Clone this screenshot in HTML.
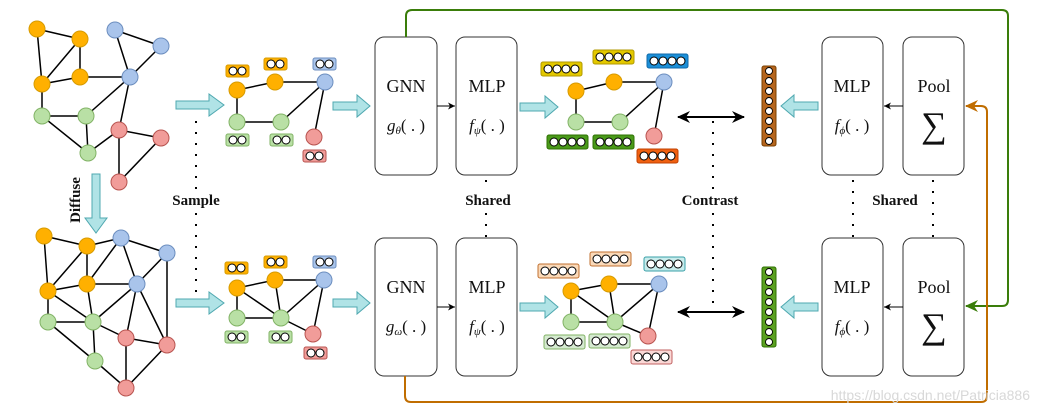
<!DOCTYPE html>
<html><head><meta charset="utf-8"><style>body{margin:0;background:#fff}svg{display:block}text{font-family:"Liberation Serif",serif}</style></head><body>
<svg width="1039" height="414" viewBox="0 0 1039 414" xmlns="http://www.w3.org/2000/svg">
<defs>
<marker id="ah" markerWidth="8" markerHeight="8" refX="7" refY="4" orient="auto" markerUnits="userSpaceOnUse"><path d="M0,0.5 L7,4 L0,7.5 L2,4z" fill="#000"/></marker>
<marker id="ab" markerWidth="14" markerHeight="12" refX="12" refY="6" orient="auto-start-reverse" markerUnits="userSpaceOnUse"><path d="M0,0 L13,6 L0,12 L4,6z" fill="#000"/></marker>
<marker id="ag" markerWidth="14" markerHeight="12" refX="12" refY="6" orient="auto" markerUnits="userSpaceOnUse"><path d="M0,0 L13,6 L0,12 L4,6z" fill="#3a7d0a"/></marker>
<marker id="ao" markerWidth="14" markerHeight="12" refX="12" refY="6" orient="auto" markerUnits="userSpaceOnUse"><path d="M0,0 L13,6 L0,12 L4,6z" fill="#c06d00"/></marker>
</defs>
<g stroke="#000" stroke-width="1.5" fill="none">
<path d="M37,29L80,39M37,29L42,84M80,39L42,84M80,39L80,77M42,84L80,77M80,77L130,77M115,30L161,46M115,30L130,77M161,46L130,77M130,77L86,116M130,77L119,130M42,84L42,116M42,116L86,116M42,116L88,153M86,116L88,153M88,153L119,130M119,130L161,138M119,130L119,182M161,138L119,182"/>
<path d="M44,236L87,246M44,236L48,291M87,246L48,291M87,246L87,284M87,246L121,238M48,291L87,284M48,291L48,322M48,291L93,322M87,284L93,322M87,284L137,284M87,284L121,238M121,238L137,284M121,238L167,253M167,253L137,284M167,253L167,345M137,284L93,322M137,284L126,338M137,284L167,345M48,322L93,322M48,322L95,361M93,322L95,361M93,322L126,338M126,338L167,345M126,338L126,388M95,361L126,388M167,345L126,388"/>
<path d="M237,90L275,82L325,82M237,90L237,122L281,122L325,82L314,137"/>
<path d="M237,288L275,280L324,280M237,288L237,318L281,318L324,280L313,334M237,288L281,318M275,280L281,318M281,318L313,334"/>
<path d="M576,91L614,82L664,82M576,91L576,122L620,122L664,82L654,136"/>
<path d="M571,291L609,284L659,284M571,291L571,322L615,322L659,284L648,336M571,291L615,322M609,284L615,322M615,322L648,336"/>
</g>
<g stroke-width="1">
<g fill="#ffb000" stroke="#d79b00">
<circle cx="37" cy="29" r="8"/><circle cx="80" cy="39" r="8"/><circle cx="42" cy="84" r="8"/><circle cx="80" cy="77" r="8"/>
<circle cx="44" cy="236" r="8"/><circle cx="87" cy="246" r="8"/><circle cx="48" cy="291" r="8"/><circle cx="87" cy="284" r="8"/>
<circle cx="237" cy="90" r="8"/><circle cx="275" cy="82" r="8"/><circle cx="237" cy="288" r="8"/><circle cx="275" cy="280" r="8"/>
<circle cx="576" cy="91" r="8"/><circle cx="614" cy="82" r="8"/><circle cx="571" cy="291" r="8"/><circle cx="609" cy="284" r="8"/>
</g>
<g fill="#a9c4eb" stroke="#6c8ebf">
<circle cx="115" cy="30" r="8"/><circle cx="161" cy="46" r="8"/><circle cx="130" cy="77" r="8"/>
<circle cx="121" cy="238" r="8"/><circle cx="167" cy="253" r="8"/><circle cx="137" cy="284" r="8"/>
<circle cx="325" cy="82" r="8"/><circle cx="324" cy="280" r="8"/><circle cx="664" cy="82" r="8"/><circle cx="659" cy="284" r="8"/>
</g>
<g fill="#b9e0a5" stroke="#82b366">
<circle cx="42" cy="116" r="8"/><circle cx="86" cy="116" r="8"/><circle cx="88" cy="153" r="8"/>
<circle cx="48" cy="322" r="8"/><circle cx="93" cy="322" r="8"/><circle cx="95" cy="361" r="8"/>
<circle cx="237" cy="122" r="8"/><circle cx="281" cy="122" r="8"/><circle cx="237" cy="318" r="8"/><circle cx="281" cy="318" r="8"/>
<circle cx="576" cy="122" r="8"/><circle cx="620" cy="122" r="8"/><circle cx="571" cy="322" r="8"/><circle cx="615" cy="322" r="8"/>
</g>
<g fill="#f19c99" stroke="#b85450">
<circle cx="119" cy="130" r="8"/><circle cx="161" cy="138" r="8"/><circle cx="119" cy="182" r="8"/>
<circle cx="126" cy="338" r="8"/><circle cx="167" cy="345" r="8"/><circle cx="126" cy="388" r="8"/>
<circle cx="314" cy="137" r="8"/><circle cx="313" cy="334" r="8"/><circle cx="654" cy="136" r="8"/><circle cx="648" cy="336" r="8"/>
</g>
</g>
<g stroke-width="1">
<g fill="#ffb000" stroke="#d79b00"><rect x="226" y="65" width="23" height="12" rx="2"/><rect x="264" y="58" width="23" height="12" rx="2"/><rect x="225" y="262" width="23" height="12" rx="2"/><rect x="264" y="256" width="23" height="12" rx="2"/></g>
<g fill="#a9c4eb" stroke="#6c8ebf"><rect x="313" y="58" width="23" height="12" rx="2"/><rect x="313" y="256" width="23" height="12" rx="2"/></g>
<g fill="#b9e0a5" stroke="#82b366"><rect x="226" y="134" width="23" height="12" rx="2"/><rect x="270" y="134" width="23" height="12" rx="2"/><rect x="225" y="331" width="23" height="12" rx="2"/><rect x="269" y="331" width="23" height="12" rx="2"/></g>
<g fill="#f19c99" stroke="#b85450"><rect x="303" y="150" width="23" height="12" rx="2"/><rect x="304" y="347" width="23" height="12" rx="2"/></g>
<g fill="#fff" stroke="#000">
<circle cx="233" cy="71" r="4"/><circle cx="242" cy="71" r="4"/><circle cx="271" cy="64" r="4"/><circle cx="280" cy="64" r="4"/><circle cx="320" cy="64" r="4"/><circle cx="329" cy="64" r="4"/>
<circle cx="233" cy="140" r="4"/><circle cx="242" cy="140" r="4"/><circle cx="277" cy="140" r="4"/><circle cx="286" cy="140" r="4"/><circle cx="310" cy="156" r="4"/><circle cx="319" cy="156" r="4"/>
<circle cx="232" cy="268" r="4"/><circle cx="241" cy="268" r="4"/><circle cx="271" cy="262" r="4"/><circle cx="280" cy="262" r="4"/><circle cx="320" cy="262" r="4"/><circle cx="329" cy="262" r="4"/>
<circle cx="232" cy="337" r="4"/><circle cx="241" cy="337" r="4"/><circle cx="276" cy="337" r="4"/><circle cx="285" cy="337" r="4"/><circle cx="311" cy="353" r="4"/><circle cx="320" cy="353" r="4"/>
</g>
</g>
<g stroke-width="1">
<rect x="541" y="62" width="41" height="14" rx="2" fill="#e3c800" stroke="#b09a00"/>
<rect x="593" y="50" width="41" height="14" rx="2" fill="#e3c800" stroke="#b09a00"/>
<rect x="647" y="54" width="41" height="14" rx="2" fill="#1b8fd8" stroke="#106aa8"/>
<rect x="547" y="135" width="41" height="14" rx="2" fill="#4a9a1a" stroke="#2d7000"/>
<rect x="593" y="135" width="41" height="14" rx="2" fill="#4a9a1a" stroke="#2d7000"/>
<rect x="637" y="149" width="41" height="14" rx="2" fill="#f06010" stroke="#c04000"/>
<rect x="538" y="264" width="41" height="14" rx="2" fill="#fad9b8" stroke="#c07030"/>
<rect x="590" y="252" width="41" height="14" rx="2" fill="#fad9b8" stroke="#c07030"/>
<rect x="644" y="257" width="41" height="14" rx="2" fill="#c8ecec" stroke="#3aa0a8"/>
<rect x="544" y="335" width="41" height="14" rx="2" fill="#d5ead0" stroke="#82b366"/>
<rect x="589" y="334" width="41" height="14" rx="2" fill="#d5ead0" stroke="#82b366"/>
<rect x="631" y="350" width="41" height="14" rx="2" fill="#fad8d6" stroke="#c06060"/>
<g fill="#fff" stroke="#000">
<circle cx="548" cy="69" r="4"/><circle cx="557" cy="69" r="4"/><circle cx="566" cy="69" r="4"/><circle cx="575" cy="69" r="4"/>
<circle cx="600" cy="57" r="4"/><circle cx="609" cy="57" r="4"/><circle cx="618" cy="57" r="4"/><circle cx="627" cy="57" r="4"/>
<circle cx="654" cy="61" r="4"/><circle cx="663" cy="61" r="4"/><circle cx="672" cy="61" r="4"/><circle cx="681" cy="61" r="4"/>
<circle cx="554" cy="142" r="4"/><circle cx="563" cy="142" r="4"/><circle cx="572" cy="142" r="4"/><circle cx="581" cy="142" r="4"/>
<circle cx="600" cy="142" r="4"/><circle cx="609" cy="142" r="4"/><circle cx="618" cy="142" r="4"/><circle cx="627" cy="142" r="4"/>
<circle cx="644" cy="156" r="4"/><circle cx="653" cy="156" r="4"/><circle cx="662" cy="156" r="4"/><circle cx="671" cy="156" r="4"/>
<circle cx="545" cy="271" r="4"/><circle cx="554" cy="271" r="4"/><circle cx="563" cy="271" r="4"/><circle cx="572" cy="271" r="4"/>
<circle cx="597" cy="259" r="4"/><circle cx="606" cy="259" r="4"/><circle cx="615" cy="259" r="4"/><circle cx="624" cy="259" r="4"/>
<circle cx="651" cy="264" r="4"/><circle cx="660" cy="264" r="4"/><circle cx="669" cy="264" r="4"/><circle cx="678" cy="264" r="4"/>
<circle cx="551" cy="342" r="4"/><circle cx="560" cy="342" r="4"/><circle cx="569" cy="342" r="4"/><circle cx="578" cy="342" r="4"/>
<circle cx="596" cy="341" r="4"/><circle cx="605" cy="341" r="4"/><circle cx="614" cy="341" r="4"/><circle cx="623" cy="341" r="4"/>
<circle cx="638" cy="357" r="4"/><circle cx="647" cy="357" r="4"/><circle cx="656" cy="357" r="4"/><circle cx="665" cy="357" r="4"/>
</g>
</g>
<rect x="762" y="66" width="14" height="80" rx="2" fill="#b5651d" stroke="#7a4000"/>
<rect x="762" y="267" width="14" height="80" rx="2" fill="#5aa020" stroke="#2d7000"/>
<g fill="#fff" stroke="#000" stroke-width="0.9">
<circle cx="769" cy="71" r="3.5"/><circle cx="769" cy="81" r="3.5"/><circle cx="769" cy="91" r="3.5"/><circle cx="769" cy="101" r="3.5"/><circle cx="769" cy="111" r="3.5"/><circle cx="769" cy="121" r="3.5"/><circle cx="769" cy="131" r="3.5"/><circle cx="769" cy="141" r="3.5"/>
<circle cx="769" cy="272" r="3.5"/><circle cx="769" cy="282" r="3.5"/><circle cx="769" cy="292" r="3.5"/><circle cx="769" cy="302" r="3.5"/><circle cx="769" cy="312" r="3.5"/><circle cx="769" cy="322" r="3.5"/><circle cx="769" cy="332" r="3.5"/><circle cx="769" cy="342" r="3.5"/>
</g>
<g fill="#b0e3e6" stroke="#4fa8b0" stroke-width="1">
<polygon points="176,101 209,101 209,94 224,105 209,116 209,109 176,109"/>
<polygon points="176,299 209,299 209,292 224,303 209,314 209,307 176,307"/>
<polygon points="333,102 357,102 357,95 370,106 357,117 357,110 333,110"/>
<polygon points="333,299 357,299 357,292 370,303 357,314 357,307 333,307"/>
<polygon points="520,103 545,103 545,96 558,107 545,118 545,111 520,111"/>
<polygon points="520,303 545,303 545,296 558,307 545,318 545,311 520,311"/>
<polygon points="818,102 794,102 794,95 781,106 794,117 794,110 818,110"/>
<polygon points="818,303 794,303 794,296 781,307 794,318 794,311 818,311"/>
<polygon points="92,174 100,174 100,218 107,218 96,233 85,218 92,218"/>
</g>
<g fill="#fff" stroke="#333" stroke-width="1">
<rect x="375" y="37" width="62" height="138" rx="9"/><rect x="456" y="37" width="61" height="138" rx="9"/>
<rect x="375" y="238" width="62" height="138" rx="9"/><rect x="456" y="238" width="61" height="138" rx="9"/>
<rect x="822" y="37" width="61" height="138" rx="9"/><rect x="903" y="37" width="61" height="138" rx="9"/>
<rect x="822" y="238" width="61" height="138" rx="9"/><rect x="903" y="238" width="61" height="138" rx="9"/>
</g>
<g stroke="#000" stroke-width="1">
<line x1="437" y1="106" x2="455" y2="106" marker-end="url(#ah)"/>
<line x1="437" y1="307" x2="455" y2="307" marker-end="url(#ah)"/>
<line x1="903" y1="106" x2="884" y2="106" marker-end="url(#ah)"/>
<line x1="903" y1="307" x2="884" y2="307" marker-end="url(#ah)"/>
</g>
<g stroke="#000" stroke-width="2" fill="none">
<line x1="678" y1="117" x2="744" y2="117" marker-start="url(#ab)" marker-end="url(#ab)"/>
<line x1="678" y1="312" x2="744" y2="312" marker-start="url(#ab)" marker-end="url(#ab)"/>
</g>
<g stroke="#000" stroke-width="2" stroke-dasharray="2,9" fill="none">
<line x1="196" y1="121" x2="196" y2="190"/><line x1="196" y1="213" x2="196" y2="300"/>
<line x1="713" y1="121" x2="713" y2="190"/><line x1="713" y1="213" x2="713" y2="310"/>
<line x1="486" y1="180" x2="486" y2="190"/><line x1="486" y1="213" x2="486" y2="238"/>
<line x1="853" y1="180" x2="853" y2="238"/><line x1="933" y1="180" x2="933" y2="238"/>
</g>
<path d="M406,37 V16 Q406,10 412,10 H1002 Q1008,10 1008,16 V300 Q1008,306 1002,306 H966" stroke="#3a7d0a" stroke-width="2" fill="none" marker-end="url(#ag)"/>
<path d="M405,376 V396 Q405,402 411,402 H981 Q987,402 987,396 V112 Q987,106 981,106 H966" stroke="#c06d00" stroke-width="2" fill="none" marker-end="url(#ao)"/>
<g font-size="18" text-anchor="middle" fill="#111">
<text x="406" y="92">GNN</text><text x="487" y="92">MLP</text>
<text x="406" y="293">GNN</text><text x="487" y="293">MLP</text>
<text x="852" y="92">MLP</text><text x="934" y="92">Pool</text>
<text x="852" y="293">MLP</text><text x="934" y="293">Pool</text>
<g font-style="italic" font-size="17">
<text x="406" y="131">g<tspan font-size="11" dy="3">θ</tspan><tspan dy="-3" font-style="normal">( . )</tspan></text>
<text x="406" y="332">g<tspan font-size="11" dy="3">ω</tspan><tspan dy="-3" font-style="normal">( . )</tspan></text>
<text x="487" y="131">f<tspan font-size="11" dy="3">ψ</tspan><tspan dy="-3" font-style="normal">( . )</tspan></text>
<text x="487" y="332">f<tspan font-size="11" dy="3">ψ</tspan><tspan dy="-3" font-style="normal">( . )</tspan></text>
<text x="852" y="131">f<tspan font-size="11" dy="3">ϕ</tspan><tspan dy="-3" font-style="normal">( . )</tspan></text>
<text x="852" y="332">f<tspan font-size="11" dy="3">ϕ</tspan><tspan dy="-3" font-style="normal">( . )</tspan></text>
</g>
<text x="934" y="137" font-size="36">∑</text><text x="934" y="338" font-size="36">∑</text>
</g>
<g font-size="15" font-weight="bold" text-anchor="middle" fill="#111">
<text x="196" y="205">Sample</text><text x="488" y="205">Shared</text><text x="710" y="205">Contrast</text><text x="895" y="205">Shared</text>
<text transform="translate(80,200) rotate(-90)">Diffuse</text>
</g>
<text x="1030" y="400" font-size="14" text-anchor="end" fill="#d8d8d8" style="font-family:'Liberation Sans',sans-serif">https://blog.csdn.net/Patricia886</text>
</svg>
</body></html>
